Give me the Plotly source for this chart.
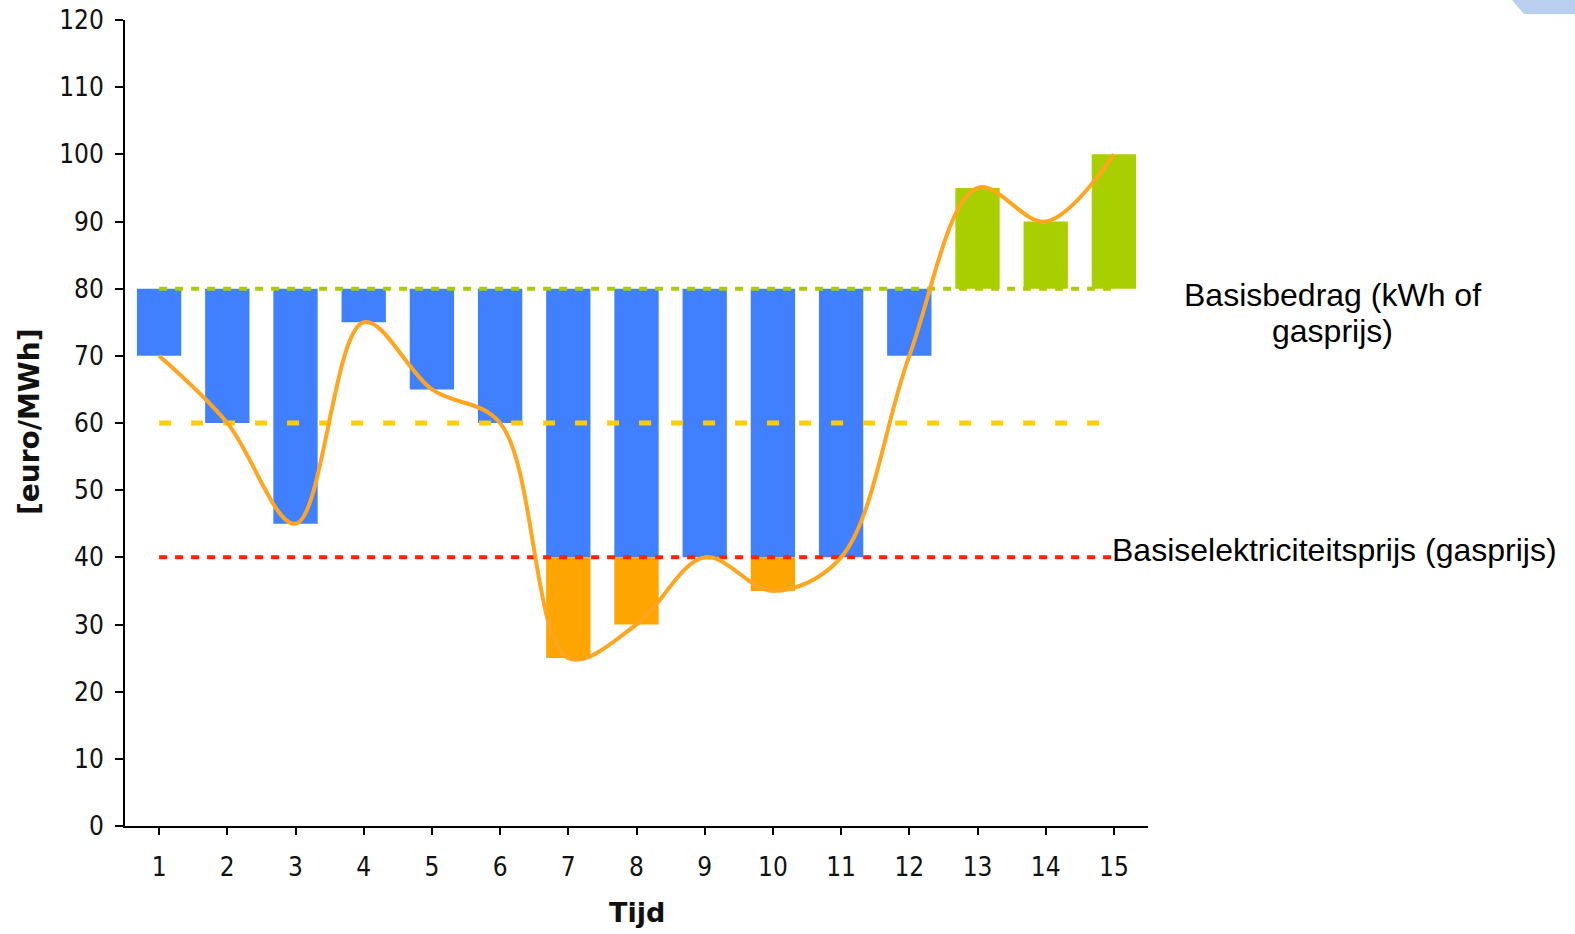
import plotly.graph_objects as go

tijd = list(range(1, 16))
prijs = [70, 60, 45, 75, 65, 60, 25, 30, 40, 35, 40, 70, 95, 90, 100]
basisbedrag = 80
piekniveau = 60
basiselektriciteit = 40
y_ticks = [0, 10, 20, 30, 40, 50, 60, 70, 80, 90, 100, 110, 120]

blue_x, blue_y, blue_base = [], [], []
orange_x, orange_y, orange_base = [], [], []
green_x, green_y, green_base = [], [], []
for t, p in zip(tijd, prijs):
    if p < basisbedrag:
        lo = max(p, basiselektriciteit)
        blue_x.append(t); blue_base.append(basisbedrag); blue_y.append(lo - basisbedrag)
        if p < basiselektriciteit:
            orange_x.append(t); orange_base.append(basiselektriciteit); orange_y.append(p - basiselektriciteit)
    elif p > basisbedrag:
        green_x.append(t); green_base.append(basisbedrag); green_y.append(p - basisbedrag)

fig = go.Figure()
fig.add_trace(go.Bar(x=blue_x, y=blue_y, base=blue_base, width=0.65,
                     marker=dict(color="#4080FF", line=dict(width=0)), showlegend=False))
fig.add_trace(go.Bar(x=orange_x, y=orange_y, base=orange_base, width=0.65,
                     marker=dict(color="#FFA500", line=dict(width=0)), showlegend=False))
fig.add_trace(go.Bar(x=green_x, y=green_y, base=green_base, width=0.65,
                     marker=dict(color="#AACF00", line=dict(width=0)), showlegend=False))

fig.add_trace(go.Scatter(x=[tijd[0], tijd[-1]], y=[basisbedrag, basisbedrag], mode="lines",
                         line=dict(color="#AACC00", width=4, dash="8px,8px"), showlegend=False))
fig.add_trace(go.Scatter(x=[tijd[0], tijd[-1]], y=[piekniveau, piekniveau], mode="lines",
                         line=dict(color="#FFCC00", width=5, dash="12px,20px"), showlegend=False))
fig.add_trace(go.Scatter(x=[tijd[0], tijd[-1]], y=[basiselektriciteit, basiselektriciteit], mode="lines",
                         line=dict(color="#FF2200", width=4, dash="8px,8px"), showlegend=False))

fig.add_trace(go.Scatter(x=tijd, y=prijs, mode="lines",
                         line=dict(color="#FFA520", width=4, shape="spline", smoothing=1.0),
                         showlegend=False))

# plot area in figure pixels (matches reference)
L, R, T, B = 125, 1148, 20, 826
W, H = 1575, 934

def px(xp):
    return (xp - L) / float(R - L)

def py(yp):
    return (B - yp) / float(B - T)

tick_font = dict(size=26, family="DejaVu Sans Condensed, DejaVu Sans", color="#111111")
label_font = dict(size=32, family="Liberation Sans, Arial", color="black")

fig.update_layout(
    width=W, height=H,
    margin=dict(l=L, r=W - R, t=T, b=H - B, autoexpand=False),
    plot_bgcolor="white", paper_bgcolor="white",
    barmode="overlay",
    font=dict(family="DejaVu Sans Condensed, DejaVu Sans", color="#111111"),
    xaxis=dict(
        range=[0.5, 15.5], tickmode="array", tickvals=tijd, ticktext=[str(t) for t in tijd],
        showline=True, linecolor="black", linewidth=2, showgrid=False, zeroline=False,
        ticks="outside", ticklen=7, tickwidth=2, tickcolor="black", tickson="boundaries",
        tickfont=tick_font, ticklabelstandoff=10, automargin=False,
    ),
    yaxis=dict(
        range=[0, 120], tickmode="array", tickvals=y_ticks,
        showline=True, linecolor="black", linewidth=2, showgrid=False, zeroline=False,
        ticks="outside", ticklen=8, tickwidth=2, tickcolor="black",
        tickfont=tick_font, ticklabelstandoff=6, ticklabeloverflow="allow", automargin=False,
    ),
    annotations=[
        dict(x=px(1332), y=py(295), xref="paper", yref="paper", text="Basisbedrag (kWh of",
             showarrow=False, font=label_font, xanchor="center", yanchor="middle"),
        dict(x=px(1332), y=py(331), xref="paper", yref="paper", text="gasprijs)",
             showarrow=False, font=label_font, xanchor="center", yanchor="middle"),
        dict(x=px(1110), y=py(550), xref="paper", yref="paper", text="Basiselektriciteitsprijs (gasprijs)",
             showarrow=False, font=label_font, xanchor="left", yanchor="middle"),
        dict(x=px(637), y=py(912), xref="paper", yref="paper", text="<b>Tijd</b>",
             showarrow=False, font=dict(size=27, family="DejaVu Sans", color="#111111"),
             xanchor="center", yanchor="middle"),
        dict(x=px(29), y=py(422), xref="paper", yref="paper", text="<b>[euro/MWh]</b>",
             showarrow=False, textangle=-90, font=dict(size=28, family="DejaVu Sans", color="#111111"),
             xanchor="center", yanchor="middle"),
    ],
)

fig.add_shape(type="path", xref="paper", yref="paper",
              path="M {a} {t} L {c} {t} L {c} {b} L {d} {b} Z".format(
                  a=px(1512), c=px(1575), d=px(1524), t=py(0), b=py(14)),
              fillcolor="#B8CFEF", line=dict(width=0), layer="above")

page_fix = ("document.documentElement.style.margin='0';document.body.style.margin='0';"
            "document.documentElement.style.overflow='hidden';document.body.style.overflow='hidden';")

fig.write_html("out.html", post_script=page_fix, config={"displayModeBar": False})
